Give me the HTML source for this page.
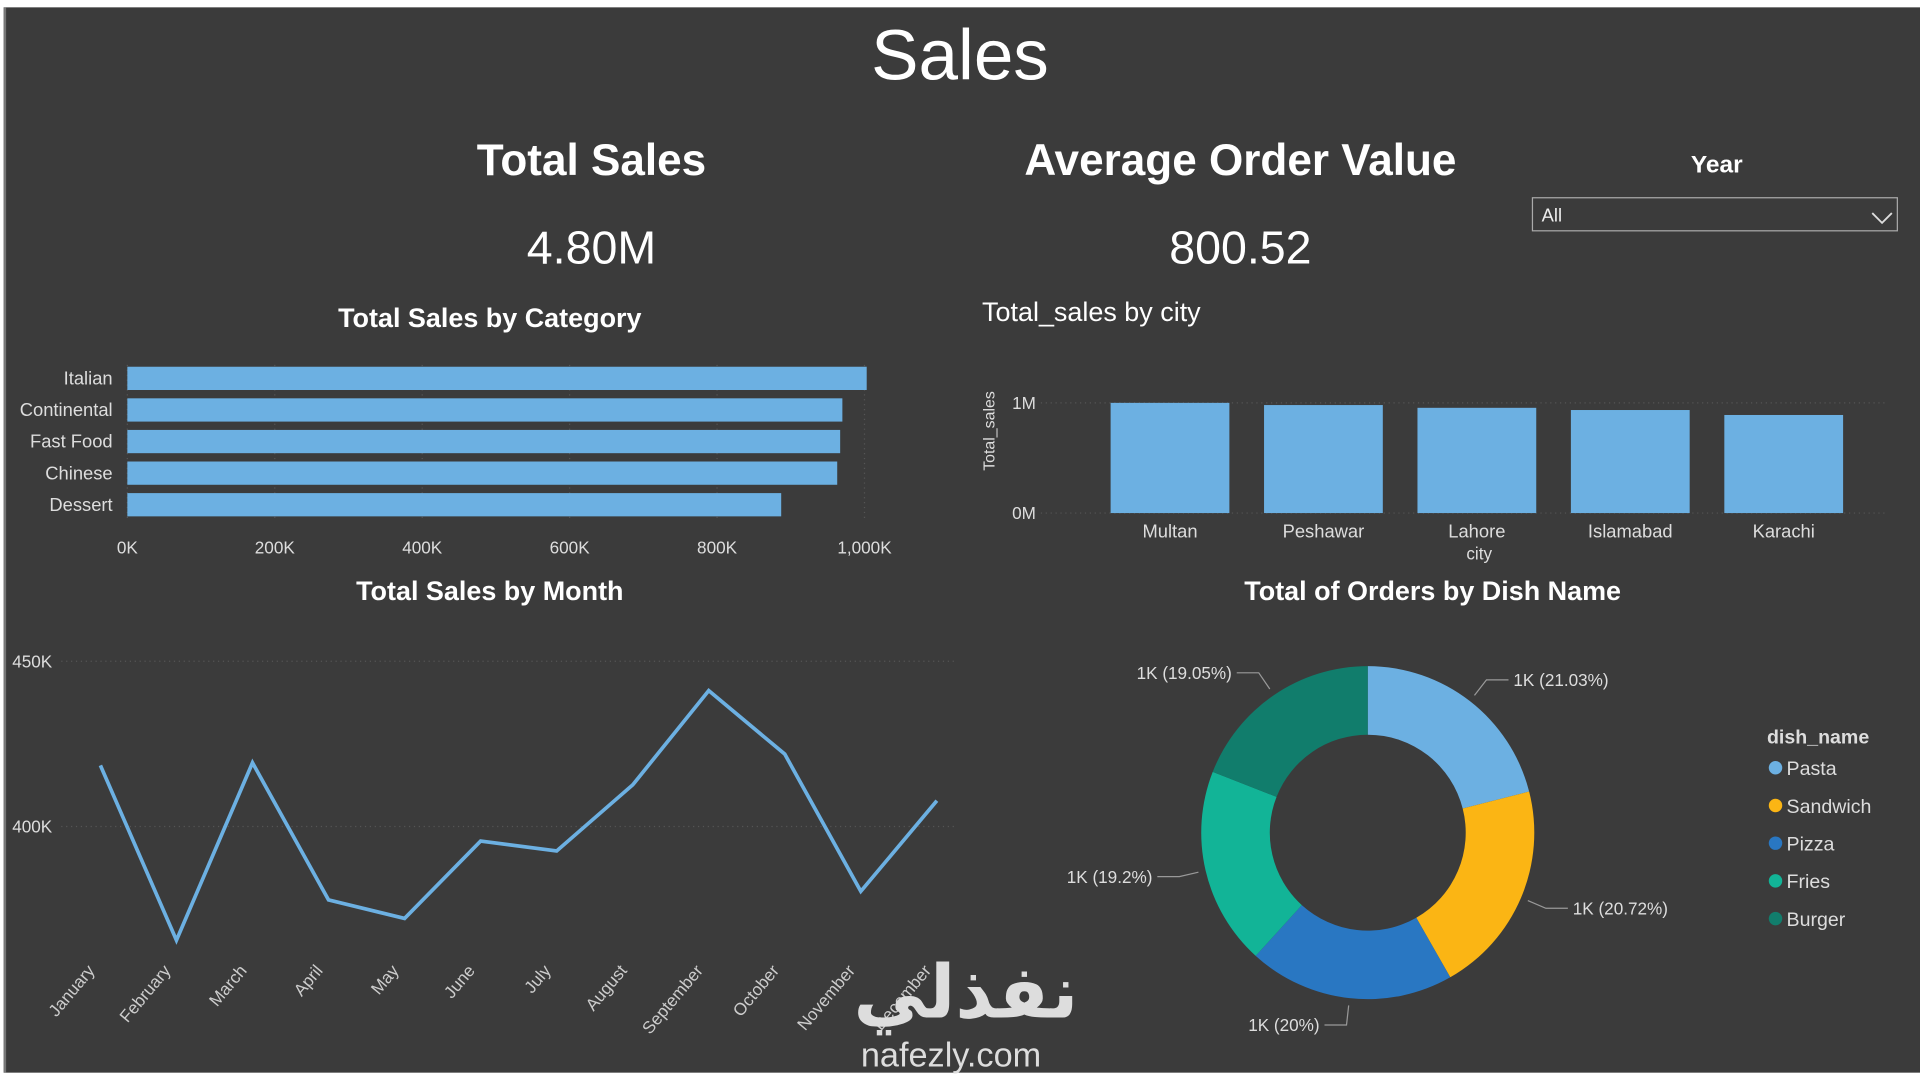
<!DOCTYPE html>
<html><head><meta charset="utf-8"><style>
html,body{margin:0;padding:0;width:1920px;height:1080px;overflow:hidden;background:#fff;}
#wrap{position:absolute;left:0;top:0;width:1568px;height:882px;transform:scale(1.22449);transform-origin:0 0;}
#bg{position:absolute;left:3px;top:6px;width:1563px;height:870px;background:#3b3b3b;border-left:2px solid #777;}
.t{position:absolute;color:#fff;font-family:"Liberation Sans",sans-serif;white-space:nowrap;}
svg{position:absolute;left:0;top:0;}
svg text{font-family:"Liberation Sans",sans-serif;}
</style></head><body>
<div id="wrap">
<div id="bg"></div>
<div class="t" style="left:0;width:1568px;text-align:center;top:12px;font-size:58px;">Sales</div>
<div class="t" style="left:383px;width:200px;text-align:center;top:110px;font-size:36px;font-weight:bold;">Total Sales</div>
<div class="t" style="left:383px;width:200px;text-align:center;top:182px;font-size:38px;">4.80M</div>
<div class="t" style="left:813px;width:400px;text-align:center;top:110px;font-size:36px;font-weight:bold;">Average Order Value</div>
<div class="t" style="left:913px;width:200px;text-align:center;top:182px;font-size:38px;">800.52</div>
<div class="t" style="left:1352px;width:100px;text-align:center;top:124px;font-size:20px;font-weight:bold;">Year</div>
<div style="position:absolute;left:1251px;top:161px;width:299px;height:28px;border:1px solid #aaa;box-sizing:border-box;">
<span class="t" style="left:7px;top:6px;font-size:15px;color:#eee;">All</span>
<svg width="299" height="28"><polyline points="277,12 285,20 293,12" fill="none" stroke="#ddd" stroke-width="1.5"/></svg>
</div>
<div class="t" style="left:200px;width:400px;text-align:center;top:247px;font-size:22px;font-weight:bold;">Total Sales by Category</div>
<div class="t" style="left:802px;top:242px;font-size:22px;">Total_sales by city</div>
<div class="t" style="left:200px;width:400px;text-align:center;top:470px;font-size:22px;font-weight:bold;">Total Sales by Month</div>
<div class="t" style="left:970px;width:400px;text-align:center;top:470px;font-size:22px;font-weight:bold;">Total of Orders by Dish Name</div>
<svg id="chart" width="1568" height="882"></svg>
<div class="t" style="left:697px;top:776px;font-size:60px;font-weight:bold;color:#ddd;font-family:'Liberation Sans','DejaVu Sans',sans-serif;">نفذلي</div>
<div class="t" style="left:703px;top:846px;font-size:28px;color:#ddd;">nafezly.com</div>
</div>
<script>
const catNames=["Italian","Continental","Fast Food","Chinese","Dessert"];
const catValues=[1003,970,967,963,887];
const catTicks=[0,200,400,600,800,1000];
const catTickLabels=["0K","200K","400K","600K","800K","1,000K"];
const cityNames=["Multan","Peshawar","Lahore","Islamabad","Karachi"];
const cityValues=[1.0,0.98,0.955,0.935,0.89];
const cityTicks=[0,1];
const cityTickLabels=["0M","1M"];
const months=["January","February","March","April","May","June","July","August","September","October","November","December"];
const monthValues=[418.5,365.6,419.3,377.8,372.2,395.6,392.6,412.6,441.1,421.9,380.4,407.8];
const monthTicks=[400,450];
const monthTickLabels=["400K","450K"];
const dishNames=["Pasta","Sandwich","Pizza","Fries","Burger"];
const dishPct=[21.03,20.72,20,19.2,19.05];
const dishLabels=["1K (21.03%)","1K (20.72%)","1K (20%)","1K (19.2%)","1K (19.05%)"];
const dishColors=["#6cb0e2","#fbb514","#2977c2","#12b497","#117d6c"];

const svg=document.getElementById('chart');const NS="http://www.w3.org/2000/svg";
function mk(tag,attrs,name,txt){const e=document.createElementNS(NS,tag);for(const k in attrs)e.setAttribute(k,attrs[k]);


if(txt!==undefined)e.textContent=txt;svg.appendChild(e);return e;}
const cx=v=>104+v*0.602;
catTicks.forEach((t,i)=>{mk('line',{x1:cx(t),x2:cx(t),y1:298,y2:424,stroke:'#555','stroke-dasharray':'1 3'},'category-gridline');
mk('text',{x:cx(t),y:452,fill:'#ddd','font-size':14,'text-anchor':'middle'},'category-x-tick',catTickLabels[i]);});
catNames.forEach((n,i)=>{const y=309+i*25.8;
mk('rect',{x:cx(0),y:y-9.5,width:cx(catValues[i])-cx(0),height:19,fill:'#6cb0e2'},'category-bar');
mk('text',{x:92,y:y+5,fill:'#ddd','font-size':15,'text-anchor':'end'},'category-label',n);});
const cy=v=>419-v*90;
cityTicks.forEach((t,i)=>{mk('line',{x1:850,x2:1540,y1:cy(t),y2:cy(t),stroke:'#555','stroke-dasharray':'1 3'},'city-gridline');
mk('text',{x:846,y:cy(t)+5,fill:'#ddd','font-size':14,'text-anchor':'end'},'city-y-tick',cityTickLabels[i]);});
cityNames.forEach((n,i)=>{const x=907+i*125.3;
mk('rect',{x:x,y:cy(cityValues[i]),width:97,height:cy(0)-cy(cityValues[i]),fill:'#6cb0e2'},'city-bar');
mk('text',{x:x+48.5,y:439,fill:'#ddd','font-size':15,'text-anchor':'middle'},'city-label',n);});
mk('text',{x:1208,y:457,fill:'#ddd','font-size':14,'text-anchor':'middle'},'city-x-axis-title','city');
mk('text',{x:0,y:0,fill:'#ddd','font-size':13,'text-anchor':'middle',transform:'translate(812,352) rotate(-90)'},'city-y-axis-title','Total_sales');
const mx=i=>82+i*62.1, my=v=>675-(v-400)*2.7;
monthTicks.forEach((t,i)=>{mk('line',{x1:50,x2:780,y1:my(t),y2:my(t),stroke:'#555','stroke-dasharray':'1 3'},'month-gridline');
mk('text',{x:10,y:my(t)+5,fill:'#ddd','font-size':14},'month-y-tick',monthTickLabels[i]);});
mk('polyline',{points:monthValues.map((v,i)=>mx(i)+','+my(v)).join(' '),fill:'none',stroke:'#6cb0e2','stroke-width':3},'month-sales-line');
months.forEach((m,i)=>mk('text',{x:0,y:0,fill:'#ccc','font-size':14,'text-anchor':'end',transform:`translate(${mx(i)-4},${793}) rotate(-50)`},'month-label',m));
const ox=1117,oy=680,R=136,r=80;let a0=-90;
const tot=dishPct.reduce((a,b)=>a+b,0);
dishPct.forEach((p,i)=>{const a1=a0+p/tot*360;const f=d=>d*Math.PI/180;
const P=(rr,a)=>[ox+rr*Math.cos(f(a)),oy+rr*Math.sin(f(a))];
const [x1,y1]=P(R,a0),[x2,y2]=P(R,a1),[x3,y3]=P(r,a1),[x4,y4]=P(r,a0);const lg=(a1-a0)>180?1:0;
mk('path',{d:`M${x1},${y1}A${R},${R} 0 ${lg} 1 ${x2},${y2}L${x3},${y3}A${r},${r} 0 ${lg} 0 ${x4},${y4}Z`,fill:dishColors[i]},'donut-slice-'+dishNames[i].toLowerCase());
const am=(a0+a1)/2;const [lx,ly]=P(R+6,am);const [ex,ey]=P(R+22,am);const right=Math.cos(f(am))>0;
const hx=ex+(right?18:-18);
mk('polyline',{points:`${lx},${ly} ${ex},${ey} ${hx},${ey}`,fill:'none',stroke:'#999','stroke-width':1},'donut-leader-line');
mk('text',{x:hx+(right?4:-4),y:ey+5,fill:'#ddd','font-size':14,'text-anchor':right?'start':'end'},'donut-data-label',dishLabels[i]);
a0=a1;});
mk('text',{x:1443,y:607,fill:'#ddd','font-size':16,'font-weight':'bold'},'legend-title','dish_name');
dishNames.forEach((n,i)=>{const y=627+i*30.8;
mk('circle',{cx:1450,cy:y,r:5.5,fill:dishColors[i]},'legend-marker');
mk('text',{x:1459,y:y+6,fill:'#ddd','font-size':16},'legend-entry',n);});
</script>
</body></html>
